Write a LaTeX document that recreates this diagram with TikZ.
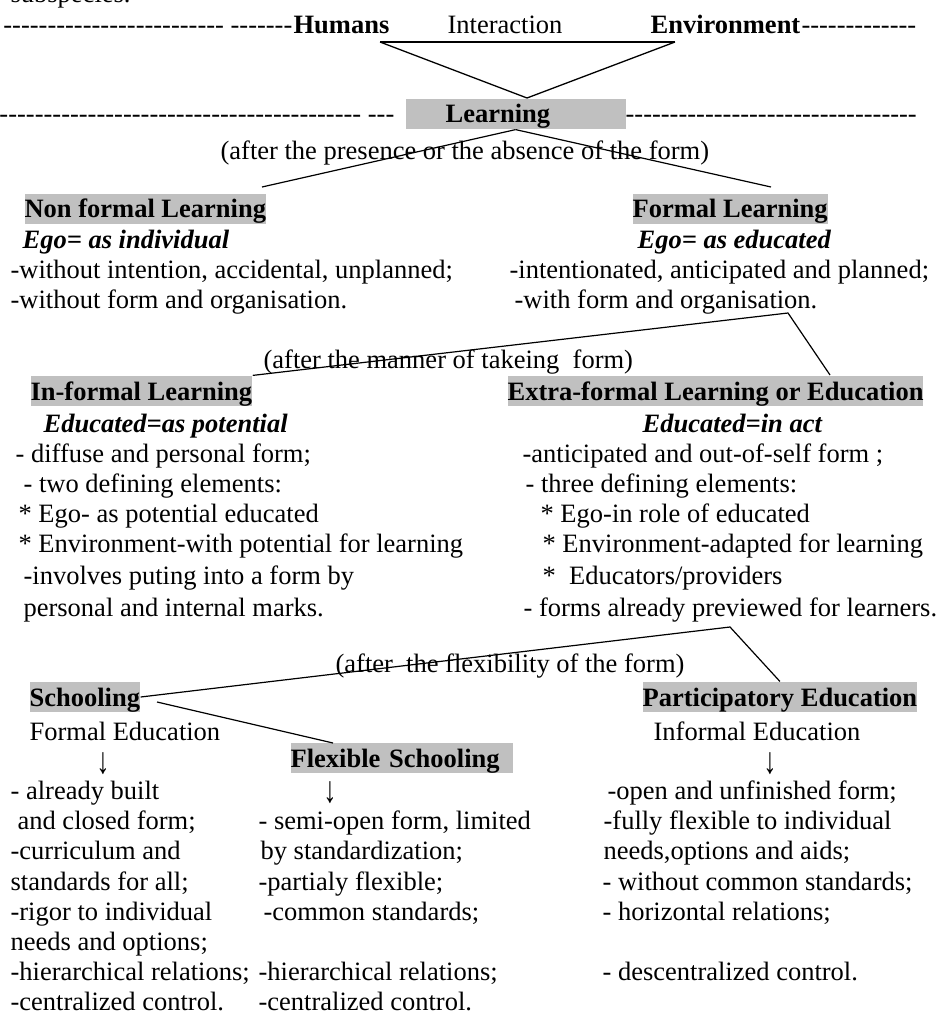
\documentclass[tikz,border=0pt]{standalone}
\usepackage{graphicx}
\usepackage{fontspec}
\setmainfont{Liberation Serif}
\usetikzlibrary{positioning}
\definecolor{hlgray}{HTML}{C0C0C0}
\newcommand\dashes[1]{\foreach \k in {1,...,#1}{\mbox{-}}}
\newcommand\downarr{\scalebox{1}[1.4]{↓}}

\begin{document}
\begin{tikzpicture}[x=1pt, y=-1pt, line width=1.2pt,
  txt/.style={anchor=base west, inner sep=0pt, font=\fontsize{26.5}{30}\selectfont},
  bt/.style={txt, font=\fontsize{26.5}{30}\selectfont\bfseries},
  bi/.style={txt, font=\fontsize{26.5}{30}\selectfont\bfseries\itshape},
  hl/.style={bt, fill=hlgray, text height=24pt, text depth=6pt}]

\useasboundingbox (0,0) rectangle (937,1016);

\node[txt] (sub) at (10,3) {subspecies.};

% Humans - Environment
\node[txt, anchor=base east] (d1l) at (293,34) {\dashes{25}\ \dashes{7}};
\node[bt] (hum) at (293,34) {Humans};
\node[txt] (inter) at (447,34) {Interaction};
\node[bt] (env) at (650,34) {Environment};
\node[txt] (d1r) at (env.base east) {\dashes{13}};

\coordinate (tl) at (380,42);
\coordinate (tr) at (675,42);
\coordinate (tb) at (527,98);
\draw[line width=2pt] (tl) -- (tr);
\draw[line width=1.3pt] (tl) -- (tb) -- (tr);

% Learning
\node[txt, anchor=base east] (d2l) at (395,123) {\dashes{41}\ \dashes{3}};
\node[hl, text width=220pt, align=left] (lrn) at (405,123) {\hspace*{40pt}Learning};
\node[txt] (d2r) at (625,123) {\dashes{33}};

\node[txt] (pres) at (220,160) {(after the presence or the absence of the form)};
\coordinate (nfe) at (262,187);
\coordinate (fe) at (771,187);
\draw (lrn.south) -- (nfe);
\draw (lrn.south) -- (fe);

\node[hl] (nonf) at (24,218) {Non formal Learning};
\node[hl] (frm) at (632,218) {Formal Learning};
\node[bi] (egoi) at (22,248) {Ego= as individual};
\node[bi] (egoe) at (637,248) {Ego= as educated};
\foreach \x/\y/\t [count=\i] in {
  10/278/{-without intention, accidental, unplanned;},
  10/308/{-without form and organisation.},
  509/278/{-intentionated, anticipated and planned;},
  514/308/{-with form and organisation.}}
  \node[txt] (a\i) at (\x,\y) {\t};

% after the manner
\node[txt] (manner) at (263,368) {(after the manner of takeing~ form)};
\coordinate (kv) at (788,313);
\coordinate (kr) at (830,375);

\node[hl] (inf) at (30,400) {In-formal Learning};
\node[hl] (extra) at (507,400) {Extra-formal Learning or Education};
\draw (inf.north east) -- (kv) -- (kr);
\node[bi] (edp) at (43,432) {Educated=as potential};
\node[bi] (eda) at (642,432) {Educated=in act};
\foreach \x/\y/\t [count=\i] in {
  15/462/{- diffuse and personal form;},
  23/492/{- two defining elements:},
  18/522/{* Ego- as potential educated},
  18/552/{* Environment-with potential for learning},
  23/584/{-involves puting into a form by},
  23/616/{personal and internal marks.},
  522/462/{-anticipated and out-of-self form ;},
  525/492/{- three defining elements:},
  540/522/{* Ego-in role of educated},
  542/552/{* Environment-adapted for learning},
  542/584/{*~ Educators/providers},
  523/616/{- forms already previewed for learners.}}
  \node[txt] (b\i) at (\x,\y) {\t};

% after the flexibility
\node[txt] (flexi) at (335,672) {(after~ the flexibility of the form)};
\coordinate (pv) at (730,627);
\coordinate (se) at (157,702);
\coordinate (fn) at (333,743);

\node[hl] (school) at (29,706) {Schooling};
\node[hl] (part) at (642,706) {Participatory Education};
\node[txt] (fed) at (29,740) {Formal Education};
\node[txt] (ied) at (653,740) {Informal Education};
\node[hl, text width=222pt, align=left] (flex) at (290,767) {Flexible Schooling};
\draw (school.east) -- (pv) -- (part.north);
\draw (se) -- (fn);

\node[txt, anchor=base] (ar1) at (103,773) {\downarr};
\node[txt, anchor=base] (ar2) at (330,802) {\downarr};
\node[txt, anchor=base] (ar3) at (770,773) {\downarr};

\foreach \x/\y/\t [count=\i] in {
  10/799/{- already built},
  17/829/{and closed form;},
  10/859/{-curriculum and},
  10/890/{standards for all;},
  10/920/{-rigor to individual},
  10/950/{needs and options;},
  10/980/{-hierarchical relations;},
  10/1010/{-centralized control.},
  258/829/{- semi-open form, limited},
  260/859/{by standardization;},
  258/890/{-partialy flexible;},
  263/920/{-common standards;},
  258/980/{-hierarchical relations;},
  258/1010/{-centralized control.},
  607/799/{-open and unfinished form;},
  603/829/{-fully flexible to individual},
  603/859/{needs,options and aids;},
  602/890/{- without common standards;},
  602/920/{- horizontal relations;},
  602/980/{- descentralized control.}}
  \node[txt] (c\i) at (\x,\y) {\t};

\end{tikzpicture}
\end{document}
